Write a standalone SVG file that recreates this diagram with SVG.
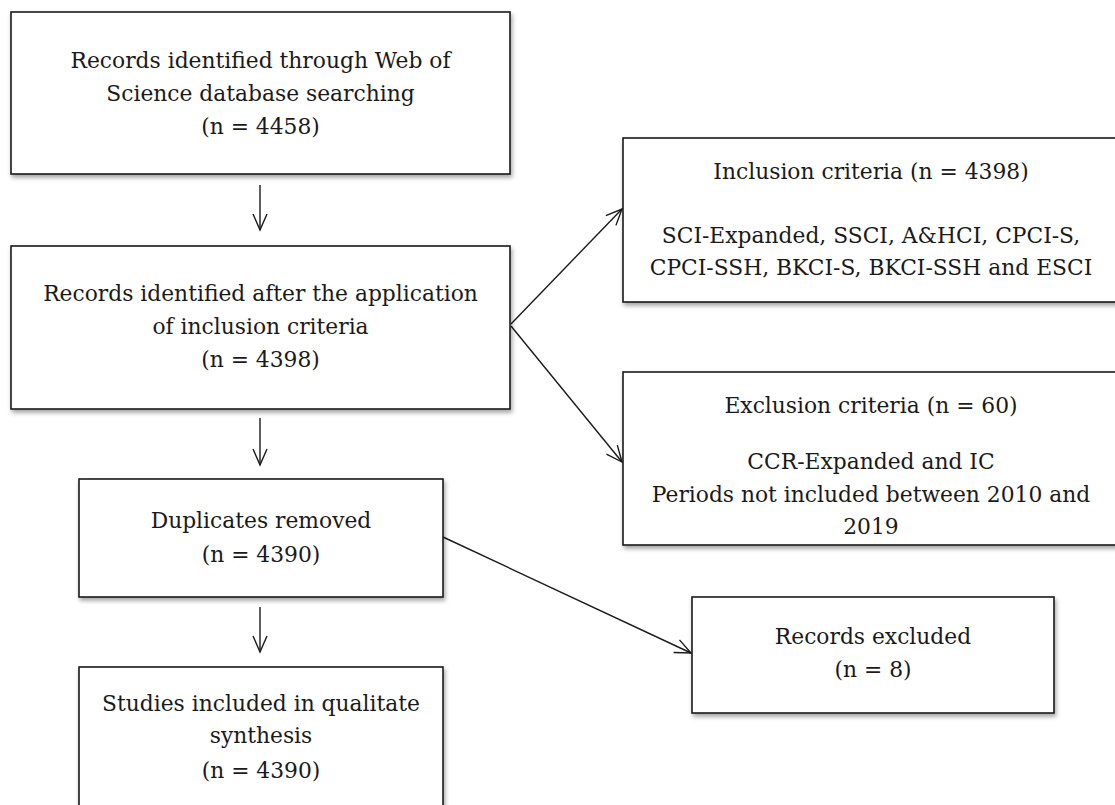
<svg xmlns="http://www.w3.org/2000/svg" width="1115" height="805" viewBox="0 0 1115 805">
<defs>
<filter id="sh" x="-5%" y="-5%" width="110%" height="115%">
<feDropShadow dx="1.5" dy="3" stdDeviation="2" flood-color="#000" flood-opacity="0.35"/>
</filter>
<marker id="ah" viewBox="0 0 20 20" refX="18" refY="10" markerWidth="20" markerHeight="20" markerUnits="userSpaceOnUse" orient="auto">
<path d="M2,3 L18,10 L2,17" fill="none" stroke="#1a1a1a" stroke-width="1.4"/>
</marker>
<style>
.box{fill:#fff;stroke:#1a1a1a;stroke-width:1.6;filter:url(#sh)}
.t{font-family:"DejaVu Serif","Liberation Serif",serif;font-size:21.8px;fill:#1a1a1a;text-anchor:middle}
.c{fill:none;stroke:#1a1a1a;stroke-width:1.4;marker-end:url(#ah)}
</style>
</defs>
<rect width="1115" height="805" fill="#fff"/>
<g id="connectors">
<line class="c" x1="260" y1="185" x2="260" y2="230"/>
<line class="c" x1="260" y1="418" x2="260" y2="465"/>
<line class="c" x1="260" y1="607" x2="260" y2="652"/>
<line class="c" x1="511" y1="324" x2="622" y2="209"/>
<line class="c" x1="511" y1="326" x2="622" y2="462"/>
<line class="c" x1="443" y1="537" x2="691" y2="653"/>
</g>
<g id="n1">
<rect class="box" x="11" y="12" width="499" height="162"/>
<text class="t" x="260.5" y="68">Records identified through Web of</text>
<text class="t" x="260.5" y="101">Science database searching</text>
<text class="t" x="260.5" y="134">(n = 4458)</text>
</g>
<g id="n2">
<rect class="box" x="11" y="246" width="499" height="163"/>
<text class="t" x="260.5" y="301">Records identified after the application</text>
<text class="t" x="260.5" y="334">of inclusion criteria</text>
<text class="t" x="260.5" y="367">(n = 4398)</text>
</g>
<g id="n3">
<rect class="box" x="623" y="138" width="510" height="164"/>
<text class="t" x="871" y="179">Inclusion criteria (n = 4398)</text>
<text class="t" x="871" y="243">SCI-Expanded, SSCI, A&amp;HCI, CPCI-S,</text>
<text class="t" x="871" y="275">CPCI-SSH, BKCI-S, BKCI-SSH and ESCI</text>
</g>
<g id="n4">
<rect class="box" x="623" y="372" width="510" height="173"/>
<text class="t" x="871" y="413">Exclusion criteria (n = 60)</text>
<text class="t" x="871" y="469">CCR-Expanded and IC</text>
<text class="t" x="871" y="502">Periods not included between 2010 and</text>
<text class="t" x="871" y="534">2019</text>
</g>
<g id="n5">
<rect class="box" x="79" y="479" width="364" height="118"/>
<text class="t" x="261" y="528">Duplicates removed</text>
<text class="t" x="261" y="562">(n = 4390)</text>
</g>
<g id="n6">
<rect class="box" x="692" y="597" width="362" height="116"/>
<text class="t" x="873" y="644">Records excluded</text>
<text class="t" x="873" y="677">(n = 8)</text>
</g>
<g id="n7">
<rect class="box" x="79" y="667" width="364" height="160"/>
<text class="t" x="261" y="711">Studies included in qualitate</text>
<text class="t" x="261" y="743">synthesis</text>
<text class="t" x="261" y="778">(n = 4390)</text>
</g>
</svg>
